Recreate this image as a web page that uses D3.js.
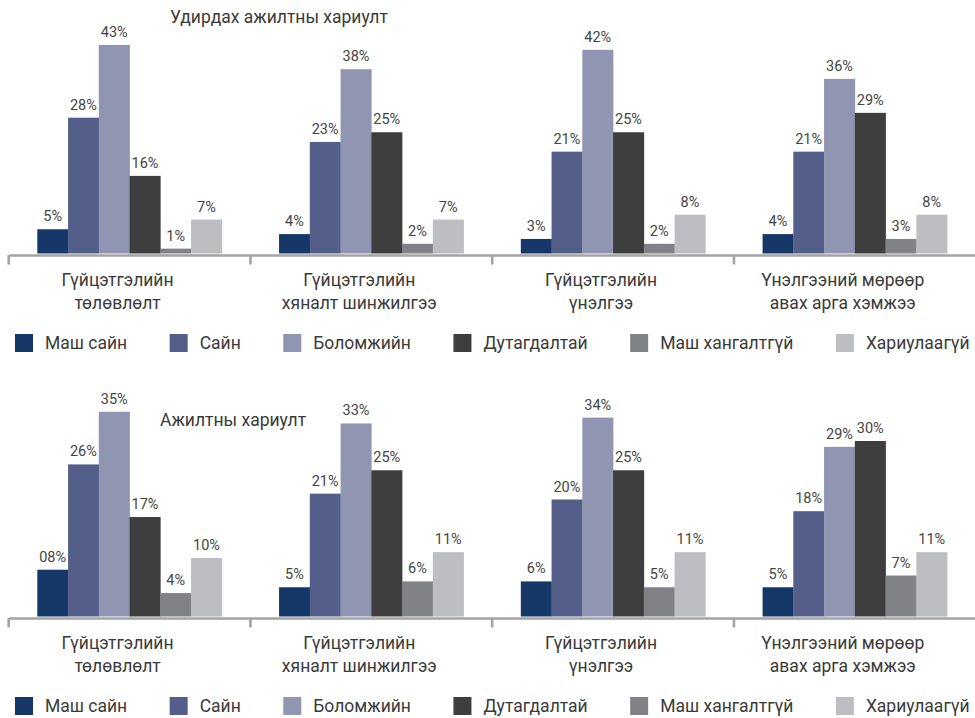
<!DOCTYPE html>
<html><head><meta charset="utf-8">
<script src="https://cdn.jsdelivr.net/npm/d3@7"></script>
<style>
html,body{margin:0;padding:0;background:#fff;}
svg{display:block;font-family:Roboto, "Noto Sans", sans-serif;}
</style></head>
<body><svg id="c" width="975" height="718"></svg>
<script>
// ---- data ----
const categories = [
  ["Гүйцэтгэлийн", "төлөвлөлт"],
  ["Гүйцэтгэлийн", "хяналт шинжилгээ"],
  ["Гүйцэтгэлийн", "үнэлгээ"],
  ["Үнэлгээний мөрөөр", "авах арга хэмжээ"]
];
const seriesNames = ["Маш сайн", "Сайн", "Боломжийн", "Дутагдалтай", "Маш хангалтгүй", "Хариулаагүй"];
const seriesColors = ["#163868", "#535f88", "#9095b1", "#3e3e3f", "#818285", "#bdbec2"];

const titleTop = "Удирдах ажилтны хариулт";
const titleBottom = "Ажилтны хариулт";

// Top chart (Удирдах ажилтны хариулт): one array per series, across the 4 categories
const topVeryGood   = [5, 4, 3, 4];
const topGood       = [28, 23, 21, 21];
const topFair       = [43, 38, 42, 36];
const topLacking    = [16, 25, 25, 29];
const topVeryPoor   = [1, 2, 2, 3];
const topNoAnswer   = [7, 7, 8, 8];

// Bottom chart (Ажилтны хариулт)
const botVeryGood   = [8, 5, 6, 5];
const botGood       = [26, 21, 20, 18];
const botFair       = [35, 33, 34, 29];
const botLacking    = [17, 25, 25, 30];
const botVeryPoor   = [4, 6, 5, 7];
const botNoAnswer   = [10, 11, 11, 11];
const botVeryGoodLabels = ["08%", "5%", "6%", "5%"];

// ---- layout ----
const svg = d3.select("#c");
const W = 975;

function drawChart(cfg) {
  const g = svg.append("g");
  const x0 = d3.scaleBand().domain(d3.range(categories.length)).range([8.7, W + 0.7]).paddingInner(0).paddingOuter(0);
  const x1 = d3.scaleBand().domain(d3.range(seriesNames.length)).range([0, x0.bandwidth()]).paddingInner(0).paddingOuter(0.93);
  const y = d3.scaleLinear().domain([0, cfg.yMax]).range([cfg.base, cfg.base - cfg.yMax * cfg.pxPer]);

  // bars
  cfg.series.forEach((vals, si) => {
    const sg = g.append("g");
    sg.selectAll("rect").data(vals).join("rect")
      .attr("x", (d, ci) => x0(ci) + x1(si))
      .attr("y", d => y(d))
      .attr("width", x1.bandwidth() + 0.3)
      .attr("height", d => y(0) - y(d))
      .attr("fill", seriesColors[si]);
    sg.selectAll("text").data(vals).join("text")
      .attr("x", (d, ci) => x0(ci) + x1(si) + x1.bandwidth() / 2)
      .attr("y", d => y(d) - 8)
      .attr("text-anchor", "middle")
      .attr("font-size", 14.5)
      .attr("fill", "#444")
      .text((d, ci) => cfg.labels && cfg.labels[si] ? cfg.labels[si][ci] : d + "%");
  });

  // axis
  const axisY = cfg.base + 1.5;
  const ax = g.append("g").attr("transform", `translate(0,${axisY})`)
    .call(d3.axisBottom(x0).tickValues([]).tickSizeOuter(0));
  ax.select(".domain").attr("stroke", "#a3a3a5").attr("stroke-width", 2.6);
  g.selectAll(null).data(d3.range(categories.length)).join("line")
    .attr("x1", d => x0(d)).attr("x2", d => x0(d))
    .attr("y1", axisY).attr("y2", axisY + 9.5)
    .attr("stroke", "#a3a3a5").attr("stroke-width", 2.6);

  // category labels
  const lab = g.selectAll(".cat").data(categories).join("text")
    .attr("class", "cat")
    .attr("text-anchor", "middle")
    .attr("font-size", 17.5)
    .attr("fill", "#3a3a3a")
    .attr("x", (d, i) => x0(i) + x0.bandwidth() / 2 - 12)
    .attr("y", axisY + 31);
  lab.selectAll("tspan").data(d => d).join("tspan")
    .attr("x", function () { return d3.select(this.parentNode).attr("x"); })
    .attr("dy", (d, i) => i === 0 ? 0 : 23)
    .text(d => d);

  // title
  g.append("text").attr("x", cfg.titleX).attr("y", cfg.titleY)
    .attr("font-size", 17.5).attr("fill", "#3a3a3a").text(cfg.title);

  // legend
  const lg = g.append("g");
  let lx = 15;
  seriesNames.forEach((name, i) => {
    lg.append("rect").attr("x", lx).attr("y", cfg.legendY - 9).attr("width", 18).attr("height", 18).attr("fill", seriesColors[i]);
    const t = lg.append("text").attr("x", lx + 30).attr("y", cfg.legendY + 6)
      .attr("font-size", 17.5).attr("fill", "#3a3a3a").text(name);
    lx = lx + 30 + t.node().getComputedTextLength() + 42.5;
  });
}

drawChart({
  series: [topVeryGood, topGood, topFair, topLacking, topVeryPoor, topNoAnswer],
  base: 253.5, pxPer: 4.85, yMax: 45,
  title: titleTop, titleX: 170, titleY: 23,
  legendY: 343
});
drawChart({
  series: [botVeryGood, botGood, botFair, botLacking, botVeryPoor, botNoAnswer],
  labels: [botVeryGoodLabels],
  base: 616.5, pxPer: 5.85, yMax: 36,
  title: titleBottom, titleX: 160, titleY: 426,
  legendY: 706
});
</script></body></html>
